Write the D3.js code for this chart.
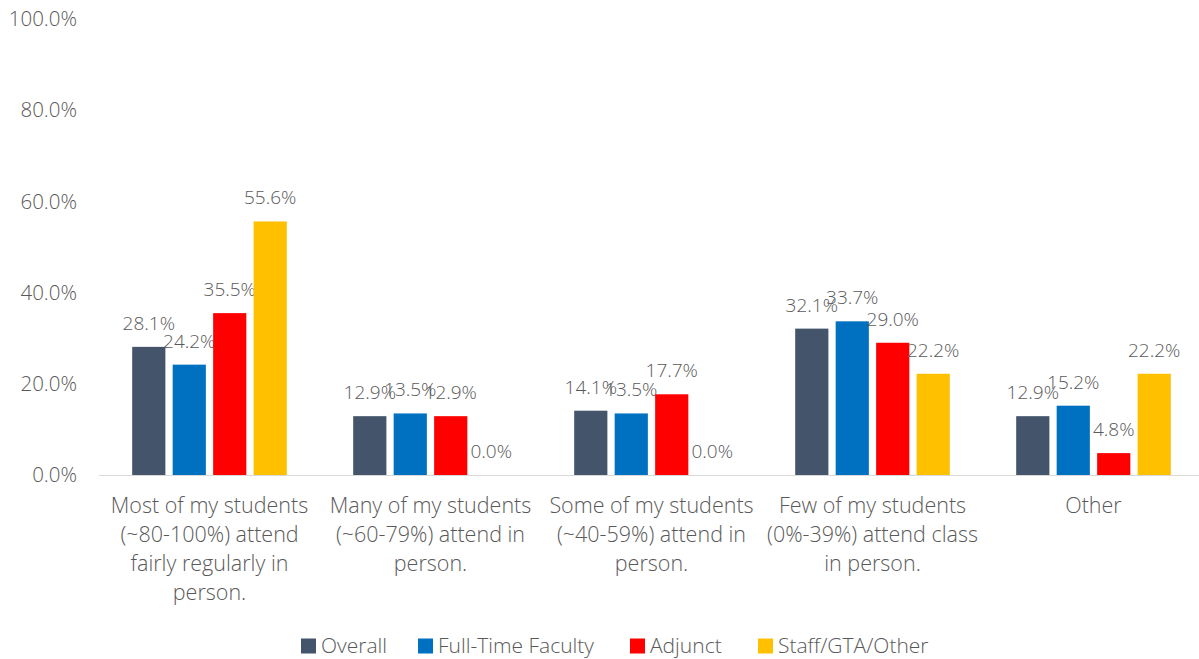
<!DOCTYPE html>
<html>
<head>
<meta charset="utf-8">
<script src="https://cdn.jsdelivr.net/npm/d3@7"></script>
<style>
  body { margin: 0; background: #fff; }
  svg text { font-family: "Open Sans", "Lato", sans-serif; font-weight: 300; fill: #595959; }
</style>
</head>
<body>
<div id="chart"></div>
<script>
// categories (multi-line labels)
const categories = [
    ["Most of my students", "(~80-100%) attend", "fairly regularly in", "person."],
    ["Many of my students", "(~60-79%) attend in", "person."],
    ["Some of my students", "(~40-59%) attend in", "person."],
    ["Few of my students", "(0%-39%) attend class", "in person."],
    ["Other"]
];
const seriesNames = ["Overall", "Full-Time Faculty", "Adjunct", "Staff/GTA/Other"];
const overall = [28.1, 12.9, 14.1, 32.1, 12.9];
const fullTime = [24.2, 13.5, 13.5, 33.7, 15.2];
const adjunct = [35.5, 12.9, 17.7, 29.0, 4.8];
const staff = [55.6, 0.0, 0.0, 22.2, 22.2];
const yTicks = [0, 20, 40, 60, 80, 100];

const colors = ["#44546A", "#0070C0", "#FF0000", "#FFC000"];
const allSeries = [overall, fullTime, adjunct, staff];

const W = 1199, H = 659;
const svg = d3.select("#chart").append("svg").attr("width", W).attr("height", H);

const x = d3.scaleBand().domain(d3.range(categories.length)).range([99, 1204]);
const xi = d3.scaleBand().domain(d3.range(seriesNames.length))
    .range([0, x.bandwidth()]).paddingInner(0.18).paddingOuter(0.82);
const y = d3.scaleLinear().domain([0, 100]).range([475, 19]);

const fmt = d => d.toFixed(1) + "%";

// y axis labels (no gridlines)
svg.append("g").selectAll("text").data(yTicks).enter().append("text")
    .attr("x", 77).attr("y", d => y(d)).attr("dy", "0.35em")
    .attr("text-anchor", "end").style("font-size", "20.5px")
    .text(d => d.toFixed(1) + "%");

// bars
allSeries.forEach((vals, s) => {
    const g = svg.append("g");
    g.selectAll("rect").data(vals).enter().append("rect")
        .attr("x", (d, i) => x(i) + xi(s))
        .attr("width", xi.bandwidth())
        .attr("y", d => y(d))
        .attr("height", d => y(0) - y(d))
        .attr("fill", colors[s]);
    g.selectAll("text").data(vals).enter().append("text")
        .attr("x", (d, i) => x(i) + xi(s) + xi.bandwidth() / 2)
        .attr("y", d => y(d) - 17)
        .attr("text-anchor", "middle").style("font-size", "19px")
        .text(fmt);
});

// baseline
svg.append("line").attr("x1", 99).attr("x2", 1199)
    .attr("y1", y(0) + 0.5).attr("y2", y(0) + 0.5)
    .attr("stroke", "#D9D9D9").attr("stroke-width", 1);

// category labels
const cat = svg.append("g").selectAll("text").data(categories).enter().append("text")
    .attr("text-anchor", "middle").style("font-size", "21.5px")
    .attr("transform", (d, i) => `translate(${x(i) + x.bandwidth() / 2},513)`);
cat.selectAll("tspan").data(d => d).enter().append("tspan")
    .attr("x", 0).attr("y", (d, i) => i * 29).text(d => d);

// legend
const legX = [301, 418, 630, 758];
const leg = svg.append("g").selectAll("g").data(seriesNames).enter().append("g")
    .attr("transform", (d, i) => `translate(${legX[i]},646)`);
leg.append("rect").attr("x", 0).attr("y", -7.5).attr("width", 15).attr("height", 15)
    .attr("fill", (d, i) => colors[i]);
leg.append("text").attr("x", 20).attr("dy", "0.35em").style("font-size", "21px")
    .text(d => d);
</script>
</body>
</html>
